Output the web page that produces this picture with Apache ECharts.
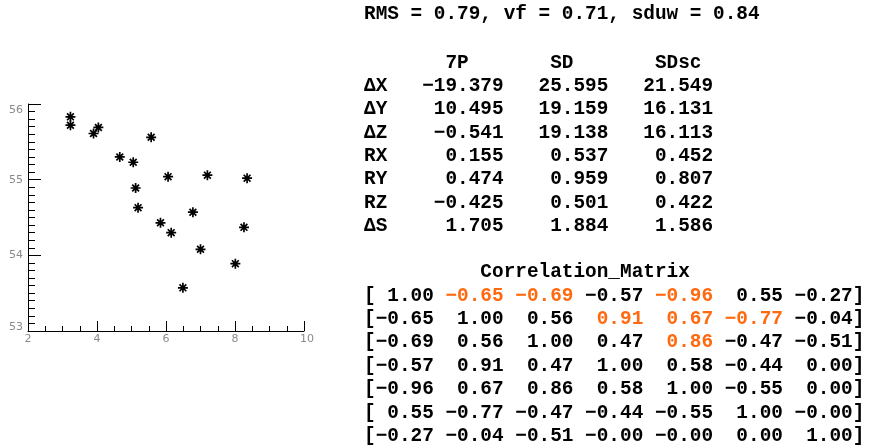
<!DOCTYPE html>
<html><head><meta charset="utf-8">
<script src="https://cdn.jsdelivr.net/npm/echarts@6/dist/echarts.min.js"></script>
<style>html,body{margin:0;padding:0;background:#fff}#c{width:869px;height:446px}</style>
</head><body><div id="c"></div>
<script>
// ---- scatter data ----
const xValues = [3.23, 3.23, 3.90, 4.04, 5.57, 4.66, 5.05, 6.06, 7.20, 8.35, 5.12, 5.19, 6.78, 5.84, 6.15, 8.26, 7.00, 8.01, 6.49];
const yValues = [55.83, 55.72, 55.61, 55.69, 55.56, 55.30, 55.23, 55.04, 55.06, 55.02, 54.89, 54.63, 54.57, 54.43, 54.30, 54.37, 54.08, 53.89, 53.57];

// ---- summary statistics ----
const statNames = ['RMS', 'vf', 'sduw'];
const statValues = [0.79, 0.71, 0.84];

// ---- parameter table ----
const paramRows = ['ΔX', 'ΔY', 'ΔZ', 'RX', 'RY', 'RZ', 'ΔS'];
const paramCols = ['7P', 'SD', 'SDsc'];
const val7P   = [-19.379, 10.495, -0.541, 0.155, 0.474, -0.425, 1.705];
const valSD   = [25.595, 19.159, 19.138, 0.537, 0.959, 0.501, 1.884];
const valSDsc = [21.549, 16.131, 16.113, 0.452, 0.807, 0.422, 1.586];

// ---- correlation matrix ----
const corrTitle = 'Correlation_Matrix';
const corrRow1 = [1.00, -0.65, -0.69, -0.57, -0.96, 0.55, -0.27];
const corrRow2 = [-0.65, 1.00, 0.56, 0.91, 0.67, -0.77, -0.04];
const corrRow3 = [-0.69, 0.56, 1.00, 0.47, 0.86, -0.47, -0.51];
const corrRow4 = [-0.57, 0.91, 0.47, 1.00, 0.58, -0.44, 0.00];
const corrRow5 = [-0.96, 0.67, 0.86, 0.58, 1.00, -0.55, 0.00];
const corrRow6 = [0.55, -0.77, -0.47, -0.44, -0.55, 1.00, -0];
const corrRow7 = [-0.27, -0.04, -0.51, -0, -0, 0.00, 1.00];
const corrRows = [corrRow1, corrRow2, corrRow3, corrRow4, corrRow5, corrRow6, corrRow7];
const highlightThreshold = 0.6;

// ---- tick labels ----
const xTicks = [2, 4, 6, 8, 10];
const yTicks = [53, 54, 55, 56];

const MONO = 'bold 19.4px "Liberation Mono", "Courier New", monospace';
const ORANGE = '#ff6a10';

function isNeg(v) { return v < 0 || Object.is(v, -0); }
function fmtMinus(s) { return s.replace('-', '\u2212'); }
function fmtParam(v) { return fmtMinus(v.toFixed(3)).padStart(9); }
function fmtCorr(v) { return (isNeg(v) ? '\u2212' : ' ') + Math.abs(v).toFixed(2); }

const statLine = statNames.map((n, i) => n + ' = ' + statValues[i].toFixed(2)).join(', ');
const header = ' '.repeat(7) + paramCols[0] + ' '.repeat(7) + paramCols[1] + ' '.repeat(7) + paramCols[2];
const tableLines = [header].concat(paramRows.map((r, i) =>
  r.padEnd(3) + fmtParam(val7P[i]) + fmtParam(valSD[i]) + fmtParam(valSDsc[i])));
const corrLines = [' '.repeat(10) + corrTitle].concat(corrRows.map((row, i) =>
  '[' + row.map((v, j) => {
    const s = fmtCorr(v);
    return (j > i && Math.abs(v) > highlightThreshold) ? '{o|' + s + '}' : s;
  }).join(' ') + ']'));

const chart = echarts.init(document.getElementById('c'), null, {renderer: 'canvas'});
const labelFont = {fontFamily: '"DejaVu Sans", sans-serif', fontSize: 11, color: '#8a8a8a'};
chart.setOption({
  animation: false,
  backgroundColor: '#fff',
  grid: {left: 28, top: 104, width: 276, height: 227, containLabel: false},
  xAxis: {
    type: 'value', min: xTicks[0], max: xTicks[xTicks.length - 1], interval: 2,
    axisLine: {show: true, onZero: false, lineStyle: {color: '#000', width: 1}},
    axisTick: {show: true, inside: true, length: 10, lineStyle: {color: '#000'}},
    minorTick: {show: true, splitNumber: 4, length: 5, lineStyle: {color: '#000'}},
    splitLine: {show: false},
    axisLabel: Object.assign({margin: 3, showMinLabel: true, showMaxLabel: true,
      formatter: v => xTicks.includes(v) ? (v === 10 ? '{r|' + v + '}' : String(v)) : '',
      rich: {r: Object.assign({padding: [0, 0, 0, 6]}, labelFont)}}, labelFont)
  },
  yAxis: {
    type: 'value', min: yTicks[0], max: yTicks[yTicks.length - 1], interval: 1,
    axisLine: {show: true, onZero: false, lineStyle: {color: '#000', width: 1}},
    axisTick: {show: true, inside: true, length: 13, lineStyle: {color: '#000'}},
    minorTick: {show: true, splitNumber: 10, length: 7, lineStyle: {color: '#000'}},
    splitLine: {show: false},
    axisLabel: Object.assign({margin: 5, showMinLabel: true, showMaxLabel: true,
      formatter: v => v === 56 ? '{t|' + v + '}' : (v === 53 ? '{b|' + v + '}' : String(v)),
      rich: {t: Object.assign({padding: [12, 0, 0, 0]}, labelFont),
             b: Object.assign({padding: [0, 0, 8, 0]}, labelFont)}}, labelFont)
  },
  series: [{
    type: 'scatter',
    data: xValues.map((x, i) => [x, yValues[i]]),
    symbol: 'path://M5 0L5 10M0 5L10 5M1.6 1.6L8.4 8.4M1.6 8.4L8.4 1.6',
    symbolSize: 10,
    itemStyle: {color: 'rgba(0,0,0,0)', borderColor: '#000', borderWidth: 1.7, opacity: 1},
    emphasis: {disabled: true},
    silent: true
  }],
  graphic: [
    {type: 'text', x: 364, y: 2.3, silent: true,
     style: {text: statLine, font: MONO, fill: '#000', lineHeight: 23.4, align: 'left', verticalAlign: 'top'}},
    {type: 'text', x: 364, y: 51.2, silent: true,
     style: {text: tableLines.join('\n'), font: MONO, fill: '#000', lineHeight: 23.3, align: 'left', verticalAlign: 'top'}},
    {type: 'text', x: 364, y: 260.8, silent: true,
     style: {text: corrLines.join('\n'), font: MONO, fill: '#000', lineHeight: 23.36, align: 'left', verticalAlign: 'top',
       rich: {o: {font: MONO, fill: ORANGE, lineHeight: 23.36}}}}
  ]
});
</script></body></html>
